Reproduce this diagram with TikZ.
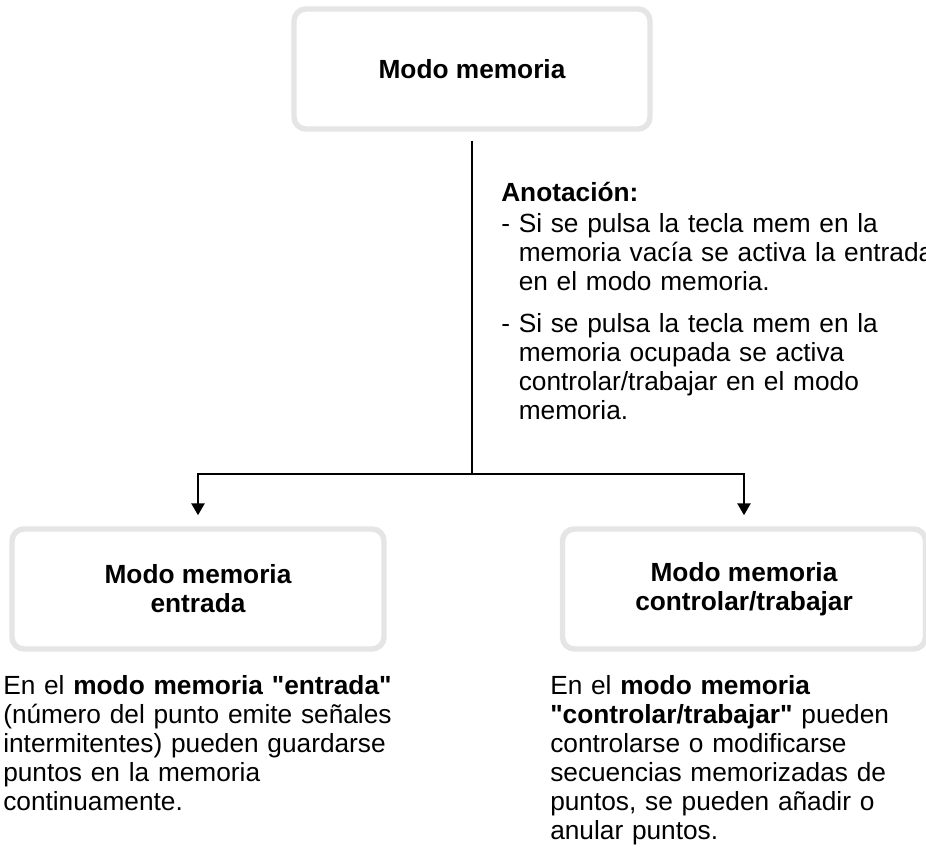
\documentclass[tikz,border=0pt]{standalone}
\usepackage{fontspec}
\setmainfont{Liberation Sans}
\newfontfamily\recta{Liberation Sans}
\newcommand{\cq}{{\recta"}}
\usetikzlibrary{arrows.meta}
\definecolor{grisborde}{HTML}{E5E5E5}

\begin{document}
\begin{tikzpicture}[x=0.75pt, y=-0.75pt,
  every node/.style={font=\fontsize{19.7pt}{21.75pt}\selectfont, inner sep=0pt},
  modo/.style={draw=grisborde, line width=4.1pt, rounded corners=9pt, fill=white,
    align=center, minimum height=90pt,
    font=\fontsize{19.7pt}{21.75pt}\selectfont\bfseries},
  texto/.style={anchor=base west, text width=330pt, align=left},
  linea/.style={line width=2pt},
  flecha/.style={linea, -{Triangle[width=9.75pt, length=9pt]}, shorten >=8.25pt}]
  \path[use as bounding box, fill=white] (0,0) rectangle (926,848);
  % cajas
  \node[modo, minimum width=267pt] (memoria) at (472,69) {Modo memoria};
  \node[modo, minimum width=279pt] (entrada) at (198,589) {Modo memoria\\entrada};
  \node[modo, minimum width=272.25pt] (control) at (744,589) {Modo memoria\\controlar/trabajar};
  % conexiones
  \coordinate (reparto) at (472,474);
  \draw[linea, shorten <=6.75pt] (memoria) -- (reparto);
  \draw[flecha] (reparto) -| (entrada.north);
  \draw[flecha] (reparto) -| (control.north);
  % anotacion
  \node[anchor=base west, font=\fontsize{19.7pt}{21.75pt}\selectfont\bfseries] (anotacion) at (501,202) {Anotación:};
  \node[texto] (lista) at (501,233) {-\ Si se pulsa la tecla mem en la\\
    \hphantom{-\ }memoria vacía se activa la entrada\\
    \hphantom{-\ }en el modo memoria.\\[9.75pt]
    -\ Si se pulsa la tecla mem en la\\
    \hphantom{-\ }memoria ocupada se activa\\
    \hphantom{-\ }controlar/trabajar en el modo\\
    \hphantom{-\ }memoria.};
  % textos inferiores
  \node[texto] (textoentrada) at (3,695) {En el \textbf{modo memoria \cq entrada\cq}\\
    (número del punto emite señales\\
    intermitentes) pueden guardarse\\
    puntos en la memoria\\
    continuamente.};
  \node[texto] (textocontrol) at (550,695) {En el \textbf{modo memoria}\\
    \textbf{\cq controlar/trabajar\cq} pueden\\
    controlarse o modificarse\\
    secuencias memorizadas de\\
    puntos, se pueden añadir o\\
    anular puntos.};
\end{tikzpicture}
\end{document}
